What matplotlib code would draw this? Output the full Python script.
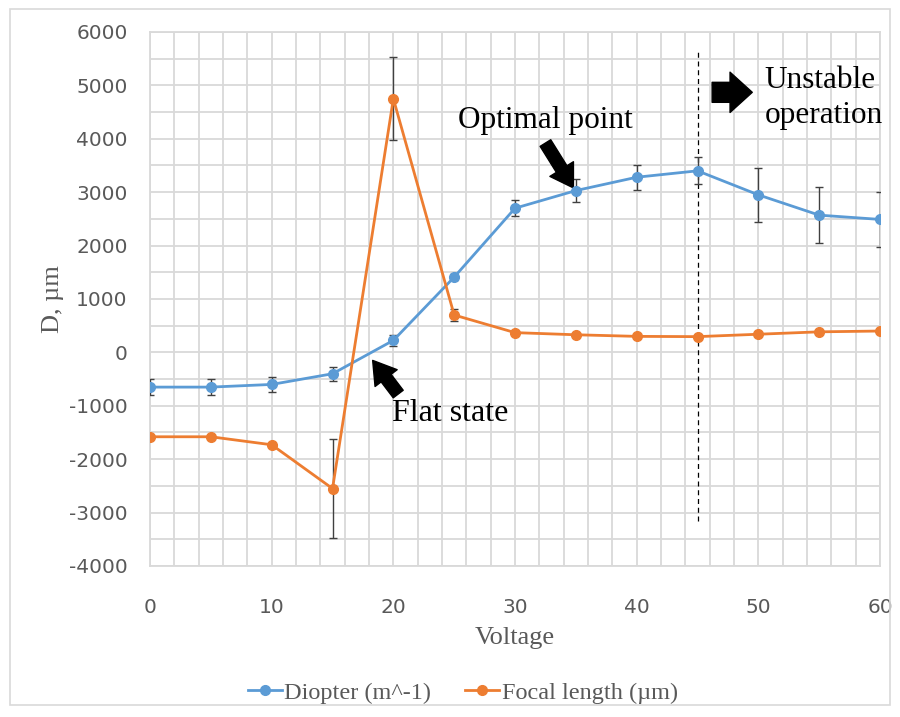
import matplotlib
matplotlib.use("Agg")
import matplotlib.pyplot as plt
from matplotlib.patches import Rectangle
from matplotlib.lines import Line2D
from matplotlib.ticker import MultipleLocator

plt.rcParams["axes.unicode_minus"] = False

# ──────────────────────────────────────────────
# 数据
# ──────────────────────────────────────────────
voltage = [0, 5, 10, 15, 20, 25, 30, 35, 40, 45, 50, 55, 60]
diopter = [-650, -650, -600, -400, 225, 1410, 2700, 3030, 3280, 3400, 2950, 2570, 2490]
diopter_err = [150, 150, 140, 130, 100, 60, 150, 210, 230, 250, 500, 525, 520]
focal = [-1580, -1580, -1730, -2550, 4750, 700, 370, 330, 300, 295, 340, 385, 400]
focal_err = [30, 30, 30, 920, 780, 120, 30, 30, 30, 30, 30, 30, 30]

BLUE = "#5B9BD5"
ORANGE = "#ED7D31"
GRID = "#D9D9D9"
TXT = "#595959"
SERIF = "Liberation Serif"

fig = plt.figure(figsize=(9, 7.17), dpi=100)
fig.patches.append(Rectangle((0.011, 0.017), 0.978, 0.97, transform=fig.transFigure,
                             fill=False, edgecolor="#D9D9D9", linewidth=1.2))
ax = fig.add_axes([0.1667, 0.2106, 0.8111, 0.7448])

ax.errorbar(voltage, diopter, yerr=diopter_err, color=BLUE, marker="o", markersize=7,
            linewidth=2, ecolor="#404040", elinewidth=1, capsize=3, capthick=1, zorder=3)
ax.errorbar(voltage, focal, yerr=focal_err, color=ORANGE, marker="o", markersize=7,
            linewidth=2, ecolor="#404040", elinewidth=1, capsize=3, capthick=1, zorder=3)

ax.set_xlim(0, 60)
ax.set_ylim(-4000, 6000)
ax.xaxis.set_major_locator(MultipleLocator(10))
ax.xaxis.set_minor_locator(MultipleLocator(2))
ax.yaxis.set_major_locator(MultipleLocator(1000))
ax.yaxis.set_minor_locator(MultipleLocator(500))
ax.grid(which="both", color=GRID, linewidth=1.3)
ax.set_axisbelow(True)
for s in ax.spines.values():
    s.set_color(GRID)
    s.set_linewidth(1.3)
ax.tick_params(which="both", length=0, colors=TXT, labelsize=14.5)
ax.tick_params(axis="y", pad=16)
ax.tick_params(axis="x", pad=23)

ax.set_xlabel("Voltage", fontfamily=SERIF, fontsize=19, color=TXT, labelpad=7)
ax.set_ylabel("D, \u00b5m", fontfamily=SERIF, fontsize=19, color=TXT, labelpad=4)

# 不稳定区分界线
ax.plot([45, 45], [-3150, 5680], color="black", linestyle=(0, (4, 3)), linewidth=0.9, zorder=2)

# 标注
ax.text(25.3, 4350, "Optimal point", fontfamily=SERIF, fontsize=22.5, va="center")
ax.annotate("", xy=(34.8, 3080), xytext=(32.5, 3920),
            arrowprops=dict(arrowstyle="simple,head_width=1.0,head_length=0.8,tail_width=0.45",
                            color="black", mutation_scale=20, shrinkA=0, shrinkB=0))
ax.text(19.9, -1140, "Flat state", fontfamily=SERIF, fontsize=23, va="center")
ax.annotate("", xy=(18.3, -150), xytext=(20.4, -780),
            arrowprops=dict(arrowstyle="simple,head_width=1.0,head_length=0.8,tail_width=0.45",
                            color="black", mutation_scale=20, shrinkA=0, shrinkB=0))
ax.text(50.5, 4760, "Unstable\noperation", fontfamily=SERIF, fontsize=22.5, va="center",
        linespacing=1.25)
ax.annotate("", xy=(49.5, 4870), xytext=(46.2, 4870),
            arrowprops=dict(arrowstyle="simple,head_width=1.45,head_length=0.8,tail_width=0.72",
                            color="black", mutation_scale=20, shrinkA=0, shrinkB=0))

handles = [Line2D([], [], color=BLUE, marker="o", markersize=7, linewidth=2),
           Line2D([], [], color=ORANGE, marker="o", markersize=7, linewidth=2)]
labels = ["Diopter (m^-1)", "Focal length (\u00b5m)"]
leg = fig.legend(handles, labels, loc="center", bbox_to_anchor=(0.514, 0.034), ncol=2,
                 frameon=False, prop={"family": SERIF, "size": 17.5}, handlelength=1.4,
                 columnspacing=1.4, handletextpad=0.1)
for t in leg.get_texts():
    t.set_color(TXT)

fig.savefig("out.png", dpi=100)
